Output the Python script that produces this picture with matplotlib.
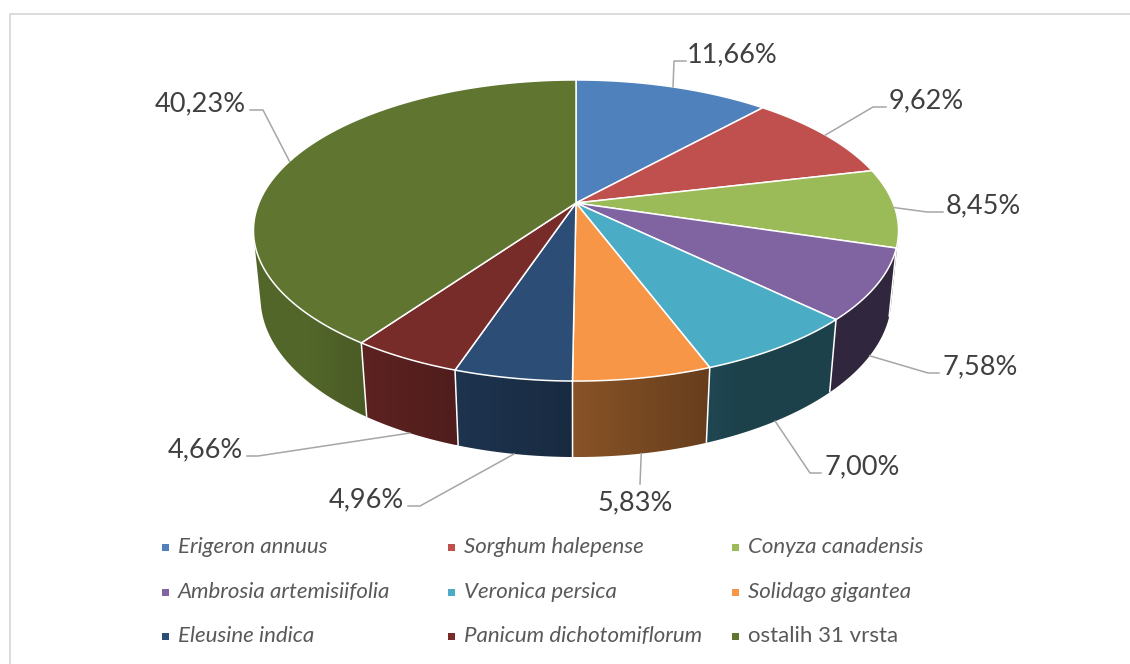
import numpy as np
import matplotlib
matplotlib.use('Agg')
import matplotlib.pyplot as plt
from matplotlib.patches import Polygon, Rectangle
from matplotlib.colors import to_rgb

# data
species = ['Erigeron annuus', 'Sorghum halepense', 'Conyza canadensis',
           'Ambrosia artemisiifolia', 'Veronica persica', 'Solidago gigantea',
           'Eleusine indica', 'Panicum dichotomiflorum', 'ostalih 31 vrsta']
shares = [11.66, 9.62, 8.45, 7.58, 7.00, 5.83, 4.96, 4.66, 40.23]
italic = [True, True, True, True, True, True, True, True, False]
colors = ['#4F81BD', '#C0504D', '#9BBB59', '#8064A2', '#4BACC6',
          '#F79646', '#2C4D75', '#772C2A', '#5F7530']

plt.rcParams['font.family'] = ['Lato', 'DejaVu Sans']

W, H = 1130, 664
fig = plt.figure(figsize=(W / 100, H / 100), dpi=100)
ax = fig.add_axes([0, 0, 1, 1])
ax.set_xlim(0, W)
ax.set_ylim(H, 0)
ax.axis('off')

# 3d pie projection (pixel space)
CX, CY = 576, 203
TILT = np.arcsin(0.452)
DIST = 4.88
F = 1571
XSQ = 0.985
THICK = 0.2355
st, ct = np.sin(TILT), np.cos(TILT)


def project(theta, y):
    x = np.sin(theta)
    z = -np.cos(theta)
    depth = DIST - (y * st + z * ct)
    down = z * st - y * ct
    return CX + XSQ * F * x / depth, CY + F * down / depth


def shade(theta):
    deg = np.degrees(theta)
    return np.clip(0.55 + (deg - 180) * 0.0065, 0.38, 0.88)


total = sum(shares)
bounds = np.concatenate([[0], np.cumsum(shares)]) / total * 2 * np.pi

# visible part of the side wall (tangent points seen from the camera)
sil = np.arccos(-1 / (DIST * ct))
vis_lo, vis_hi = sil, 2 * np.pi - sil

# side walls with horizontal gradient
for i, col in enumerate(colors):
    a0, a1 = max(bounds[i], vis_lo), min(bounds[i + 1], vis_hi)
    if a1 <= a0:
        continue
    ts = np.linspace(a0, a1, 200)
    top = [project(t, 0) for t in ts]
    bot = [project(t, -THICK) for t in ts[::-1]]
    poly = Polygon(top + bot, closed=True, facecolor='none', edgecolor='none')
    ax.add_patch(poly)
    xs_arc = np.array([project(t, -THICK)[0] for t in ts])
    allpts = np.array(top + bot)
    x0, x1 = allpts[:, 0].min(), allpts[:, 0].max()
    y0, y1 = allpts[:, 1].min(), allpts[:, 1].max()
    cols = np.linspace(x0, x1, 300)
    order = np.argsort(xs_arc)
    k = np.interp(cols, xs_arc[order], shade(ts[order]))
    img = np.array(to_rgb(col))[None, None, :] * k[None, :, None]
    im = ax.imshow(img, extent=[x0, x1, y1, y0], aspect='auto', interpolation='bilinear',
                   zorder=1)
    im.set_clip_path(poly)

# white separators on the front wall
for b in bounds[1:-1]:
    if vis_lo < b < vis_hi:
        p0 = project(b, 0)
        p1 = project(b, -THICK)
        ax.plot([p0[0], p1[0]], [p0[1], p1[1]], color='white', lw=1.1,
                solid_capstyle='butt', zorder=2)

# top faces
for i, col in enumerate(colors):
    ts = np.linspace(bounds[i], bounds[i + 1], 200)
    pts = [(CX, CY)] + [project(t, 0) for t in ts]
    ax.add_patch(Polygon(pts, closed=True, facecolor=col, edgecolor='white', lw=1.1,
                         joinstyle='round', zorder=3))

# data labels: (elbow, stub end, text x, text y, ha, va)
label_layout = [
    ((674, 61), (686, 61), 687, 62, 'left', 'baseline'),
    ((873, 107), (886, 107), 889, 108, 'left', 'baseline'),
    ((927, 212), (943, 212), 946, 213, 'left', 'baseline'),
    ((928, 373), (939, 373), 943, 374, 'left', 'baseline'),
    ((810, 473), (821, 473), 825, 474, 'left', 'baseline'),
    ((640, 484), (640, 484), 635, 490, 'center', 'top'),
    ((420, 506), (408, 506), 404, 507, 'right', 'baseline'),
    ((258, 456), (247, 456), 243, 457, 'right', 'baseline'),
    ((263, 110), (250, 110), 246, 111, 'right', 'baseline'),
]
for i, v in enumerate(shares):
    tm = 0.5 * (bounds[i] + bounds[i + 1])
    anchor = project(tm, -THICK) if -np.cos(tm) > 0.3 else project(tm, 0)
    elbow, end, tx, ty, ha, va = label_layout[i]
    ax.plot([anchor[0], elbow[0], end[0]], [anchor[1], elbow[1], end[1]],
            color='#A6A6A6', lw=1.1, zorder=4)
    ax.text(tx, ty, f'{v:.2f}'.replace('.', ',') + '%', fontsize=19.5,
            color='#404040', ha=ha, va=va, zorder=5)

# legend
col_x = [165, 451, 735]
row_y = [547, 592, 636]
for i, name in enumerate(species):
    x = col_x[i % 3]
    y = row_y[i // 3]
    ax.add_patch(Rectangle((x - 3.5, y - 3.5), 7, 7, facecolor=colors[i], edgecolor='none'))
    ax.text(x + 13, y, name, fontsize=16, color='#595959', va='center', ha='left',
            style='italic' if italic[i] else 'normal')

# chart border
ax.plot([9.5, 9.5, W], [H, 13.5, 13.5], color='#D9D9D9', lw=1.3)

fig.savefig('out.png', dpi=100)
